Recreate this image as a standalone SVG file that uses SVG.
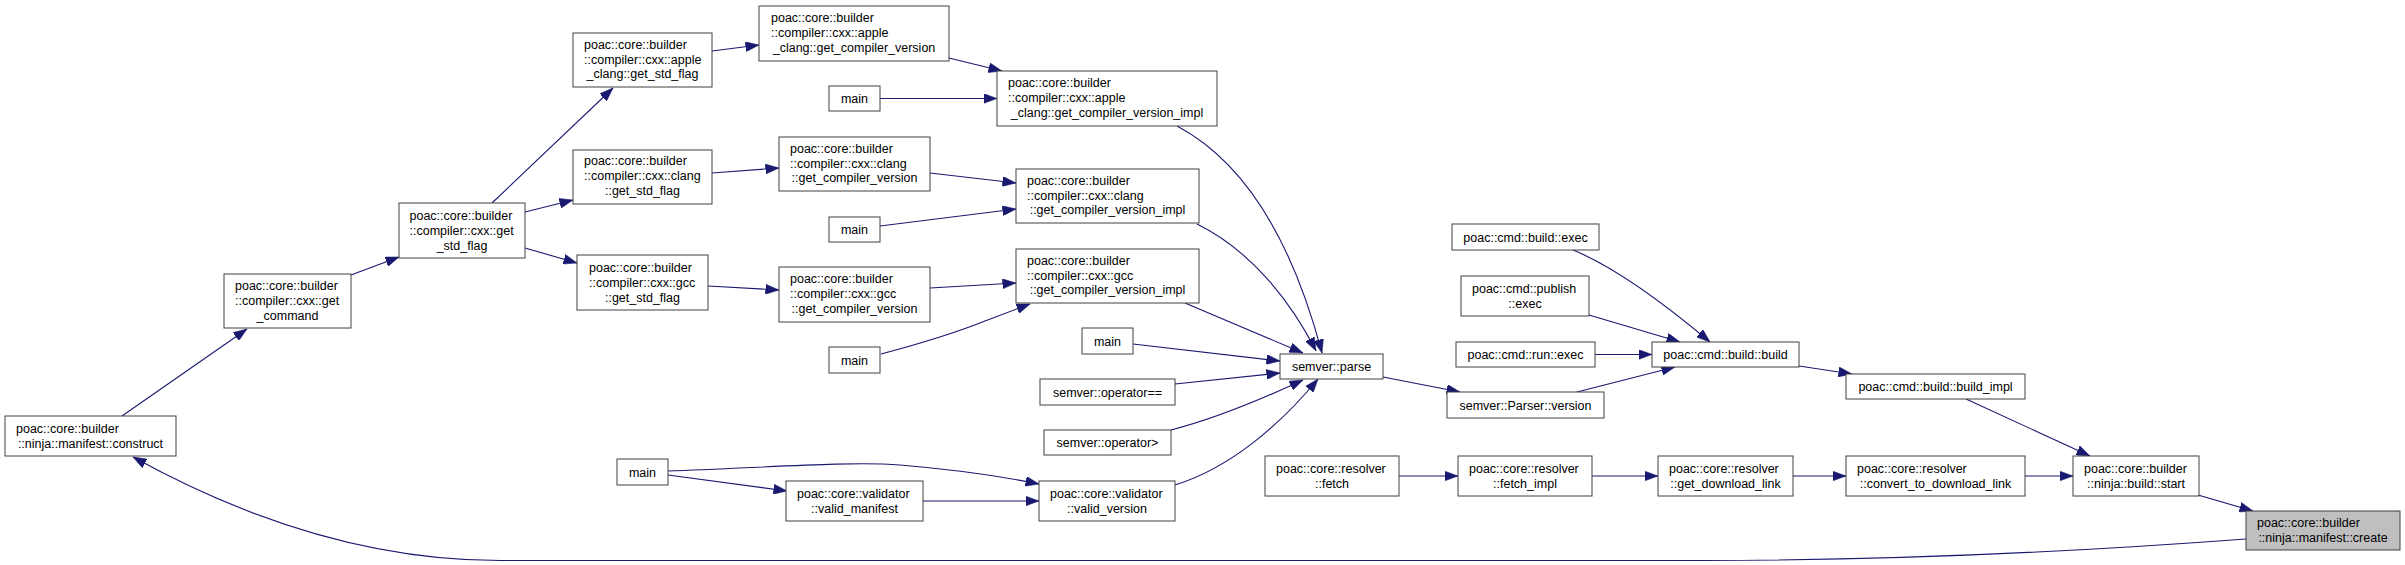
<svg xmlns="http://www.w3.org/2000/svg" width="2405" height="565" viewBox="0 0 2405 565">
<style>
.n rect{fill:#ffffff;stroke:#404040;stroke-width:1}
.n text{font-family:"Liberation Sans",Arial,Helvetica,sans-serif;font-size:12.5px;fill:#000000}
.c{text-anchor:middle}
.l{text-anchor:start}
#create rect{fill:#bfbfbf}
.e path{fill:none;stroke:#191970;stroke-width:1.1;marker-end:url(#arr)}
</style>
<defs>
<marker id="arr" markerUnits="userSpaceOnUse" viewBox="0 0 13.5 10" markerWidth="13.5" markerHeight="10" refX="13.5" refY="5" orient="auto">
<path d="M0,0 L13.5,5 L0,10 Z" fill="#191970" stroke="#191970" stroke-width="0.5"/>
</marker>
</defs>
<rect width="2405" height="565" fill="#ffffff"/>
<g id="edges" class="e">
<path d="M2246,539 C2100,550 1900,560.5 1700,560.5 L500,560.5 C350,560.5 220,505 133,457"/>
<path d="M122,416 L247,329"/>
<path d="M351,275 L399,257"/>
<path d="M492,203 L613,88"/>
<path d="M525,212 L573,200"/>
<path d="M525,248 L577,263"/>
<path d="M712,51 L759,45"/>
<path d="M712,173 L779,168"/>
<path d="M708,286 L779,290"/>
<path d="M949,58 L1002,71"/>
<path d="M880,98.5 L997,98.5"/>
<path d="M930,173 L1016,183"/>
<path d="M880,226 L1016,209"/>
<path d="M930,288 L1016,283"/>
<path d="M881,354 C915,345 950,335 985,321 L1030,304"/>
<path d="M668,471 C760,468 850,461 900,465 C960,470 1000,476 1039,484"/>
<path d="M668,475 L787,491"/>
<path d="M923,501 L1039,501"/>
<path d="M1177,126 C1260,170 1300,270 1322,353"/>
<path d="M1197,224 C1250,250 1290,300 1316,351"/>
<path d="M1185,303 L1303,353"/>
<path d="M1133,344 L1280,361"/>
<path d="M1175,384 L1280,373"/>
<path d="M1171,430 C1210,420 1260,400 1303,380"/>
<path d="M1175,485 C1230,468 1280,425 1318,379"/>
<path d="M1383,377 L1460,392"/>
<path d="M1577,392 L1675,367"/>
<path d="M1573,250 C1610,265 1660,300 1710,342"/>
<path d="M1589,315 L1680,342"/>
<path d="M1595,354.5 L1652,354.5"/>
<path d="M1799,366 L1852,374"/>
<path d="M1966,399 L2090,456"/>
<path d="M1399,476 L1458,476"/>
<path d="M1592,476 L1658,476"/>
<path d="M1793,476 L1846,476"/>
<path d="M2025,476 L2073,476"/>
<path d="M2198,495 L2253,511"/>
</g>
<g id="construct" class="n"><rect x="5" y="416" width="171" height="40"/><text class="l" x="16" y="432.5">poac::core::builder</text><text class="c" x="90.5" y="447.5">::ninja::manifest::construct</text></g>
<g id="get_command" class="n"><rect x="224" y="274" width="127" height="54"/><text class="l" x="235" y="290">poac::core::builder</text><text class="l" x="235" y="305">::compiler::cxx::get</text><text class="c" x="287.5" y="319.5">_command</text></g>
<g id="get_std_flag" class="n"><rect x="399" y="203" width="126" height="55"/><text class="l" x="409.5" y="219.5">poac::core::builder</text><text class="l" x="409.5" y="234.5">::compiler::cxx::get</text><text class="c" x="462" y="249.5">_std_flag</text></g>
<g id="apple_get_std_flag" class="n"><rect x="573" y="33" width="139" height="54"/><text class="l" x="584" y="48.5">poac::core::builder</text><text class="l" x="584" y="63.5">::compiler::cxx::apple</text><text class="c" x="642.5" y="78">_clang::get_std_flag</text></g>
<g id="clang_get_std_flag" class="n"><rect x="573" y="150" width="139" height="54"/><text class="l" x="584" y="165">poac::core::builder</text><text class="l" x="584" y="180">::compiler::cxx::clang</text><text class="c" x="642.5" y="195">::get_std_flag</text></g>
<g id="gcc_get_std_flag" class="n"><rect x="577" y="255" width="131" height="55"/><text class="l" x="589" y="271.5">poac::core::builder</text><text class="l" x="589" y="286.5">::compiler::cxx::gcc</text><text class="c" x="642.5" y="301.5">::get_std_flag</text></g>
<g id="apple_get_compiler_version" class="n"><rect x="759" y="6" width="190" height="55"/><text class="l" x="771" y="21.5">poac::core::builder</text><text class="l" x="771" y="36.5">::compiler::cxx::apple</text><text class="c" x="854" y="51.5">_clang::get_compiler_version</text></g>
<g id="main1" class="n"><rect x="829" y="86" width="51" height="25"/><text class="c" x="854.5" y="103">main</text></g>
<g id="apple_impl" class="n"><rect x="997" y="71" width="220" height="55"/><text class="l" x="1008" y="86.5">poac::core::builder</text><text class="l" x="1008" y="102">::compiler::cxx::apple</text><text class="c" x="1107" y="117">_clang::get_compiler_version_impl</text></g>
<g id="clang_get_compiler_version" class="n"><rect x="779" y="137" width="151" height="54"/><text class="l" x="790" y="152.5">poac::core::builder</text><text class="l" x="790" y="167.5">::compiler::cxx::clang</text><text class="c" x="854.5" y="182">::get_compiler_version</text></g>
<g id="main2" class="n"><rect x="829" y="217" width="51" height="25"/><text class="c" x="854.5" y="234">main</text></g>
<g id="clang_impl" class="n"><rect x="1016" y="169" width="183" height="54"/><text class="l" x="1027" y="184.5">poac::core::builder</text><text class="l" x="1027" y="199.5">::compiler::cxx::clang</text><text class="c" x="1107.5" y="214">::get_compiler_version_impl</text></g>
<g id="gcc_get_compiler_version" class="n"><rect x="779" y="267" width="151" height="55"/><text class="l" x="790" y="283">poac::core::builder</text><text class="l" x="790" y="297.5">::compiler::cxx::gcc</text><text class="c" x="854.5" y="313">::get_compiler_version</text></g>
<g id="gcc_impl" class="n"><rect x="1016" y="249" width="183" height="54"/><text class="l" x="1027" y="264.5">poac::core::builder</text><text class="l" x="1027" y="279.5">::compiler::cxx::gcc</text><text class="c" x="1107.5" y="294">::get_compiler_version_impl</text></g>
<g id="main3" class="n"><rect x="829" y="347" width="51" height="26"/><text class="c" x="854.5" y="364.5">main</text></g>
<g id="main4" class="n"><rect x="1082" y="328" width="51" height="26"/><text class="c" x="1107.5" y="345.5">main</text></g>
<g id="op_eq" class="n"><rect x="1040" y="379" width="135" height="26"/><text class="c" x="1107.5" y="396.5">semver::operator==</text></g>
<g id="op_gt" class="n"><rect x="1044" y="430" width="127" height="25"/><text class="c" x="1107.5" y="447">semver::operator&gt;</text></g>
<g id="main5" class="n"><rect x="617" y="459" width="51" height="26"/><text class="c" x="642.5" y="476.5">main</text></g>
<g id="valid_manifest" class="n"><rect x="786" y="481" width="137" height="40"/><text class="l" x="797" y="497.5">poac::core::validator</text><text class="c" x="854.5" y="512.5">::valid_manifest</text></g>
<g id="valid_version" class="n"><rect x="1039" y="481" width="136" height="40"/><text class="l" x="1050" y="497.5">poac::core::validator</text><text class="c" x="1107" y="512.5">::valid_version</text></g>
<g id="semver_parse" class="n"><rect x="1280" y="354" width="103" height="25"/><text class="c" x="1331.5" y="371">semver::parse</text></g>
<g id="build_exec" class="n"><rect x="1452" y="224" width="147" height="26"/><text class="c" x="1525.5" y="241.5">poac::cmd::build::exec</text></g>
<g id="publish_exec" class="n"><rect x="1461" y="276" width="128" height="40"/><text class="l" x="1472" y="292.5">poac::cmd::publish</text><text class="c" x="1525" y="307.5">::exec</text></g>
<g id="run_exec" class="n"><rect x="1456" y="342" width="139" height="25"/><text class="c" x="1525.5" y="359">poac::cmd::run::exec</text></g>
<g id="build_build" class="n"><rect x="1652" y="342" width="147" height="25"/><text class="c" x="1725.5" y="359">poac::cmd::build::build</text></g>
<g id="parser_version" class="n"><rect x="1447" y="392" width="157" height="26"/><text class="c" x="1525.5" y="409.5">semver::Parser::version</text></g>
<g id="resolver_fetch" class="n"><rect x="1265" y="456" width="134" height="40"/><text class="l" x="1276" y="472.5">poac::core::resolver</text><text class="c" x="1332" y="487.5">::fetch</text></g>
<g id="fetch_impl" class="n"><rect x="1458" y="456" width="134" height="40"/><text class="l" x="1469" y="472.5">poac::core::resolver</text><text class="c" x="1525" y="487.5">::fetch_impl</text></g>
<g id="get_download_link" class="n"><rect x="1658" y="456" width="135" height="40"/><text class="l" x="1669" y="472.5">poac::core::resolver</text><text class="c" x="1725.5" y="487.5">::get_download_link</text></g>
<g id="build_impl" class="n"><rect x="1846" y="374" width="179" height="25"/><text class="c" x="1935.5" y="391">poac::cmd::build::build_impl</text></g>
<g id="convert_to_download_link" class="n"><rect x="1846" y="456" width="179" height="40"/><text class="l" x="1857" y="472.5">poac::core::resolver</text><text class="c" x="1935.5" y="487.5">::convert_to_download_link</text></g>
<g id="build_start" class="n"><rect x="2073" y="456" width="126" height="40"/><text class="l" x="2084" y="472.5">poac::core::builder</text><text class="c" x="2136" y="487.5">::ninja::build::start</text></g>
<g id="create" class="n"><rect x="2246" y="511" width="154" height="39"/><text class="l" x="2257" y="527">poac::core::builder</text><text class="c" x="2323" y="541.5">::ninja::manifest::create</text></g>
</svg>
